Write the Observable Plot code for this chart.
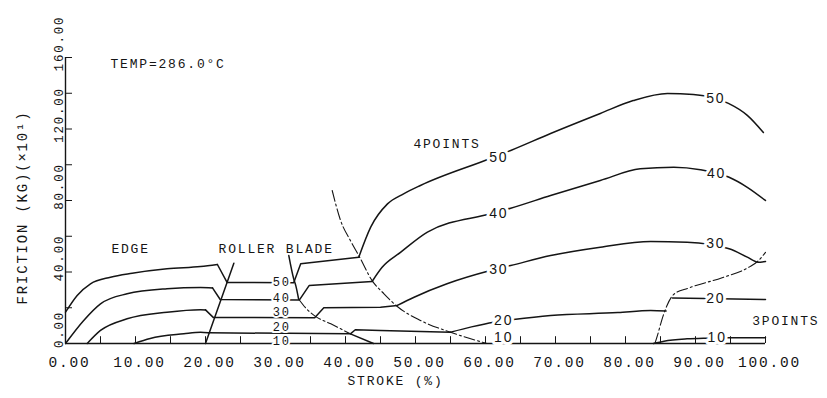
<!DOCTYPE html>
<html><head><meta charset="utf-8">
<script src="https://cdn.jsdelivr.net/npm/d3@7"></script>
<script src="https://cdn.jsdelivr.net/npm/@observablehq/plot@0.6"></script>
<style>
html,body{margin:0;padding:0;background:#fff;}
svg text{letter-spacing:1.8px;}
g[aria-label="y-tick-labels"] text{letter-spacing:0.3px;}
g[aria-label="curve-labels"] text{letter-spacing:0;}
g[aria-label="roller-labels"] text{letter-spacing:0.5px;}
</style></head><body><div id="chart"></div>
<script>
// ---- axes ----
const xTicks = [0,5,10,15,20,25,30,35,40,45,50,55,60,65,70,75,80,85,90,95,100];
const xTickLabels = [0,10,20,30,40,50,60,70,80,90,100];
const yTicks = [0,20,40,60,80,100,120,140,160];
const yTickLabels = [0,40,80,120,160];

// ---- curves (stroke %, friction) : smooth pieces ----
const edge50 = [[0,17.5],[1.67,26.9],[3.57,33.4],[6.43,37.1],[9.52,39.3],[14.5,41.8],[19.3,43.1],[21.7,44.2]];
const four50 = [[41.9,48.3],[43.6,65.1],[46,78.1],[48.3,83.7],[50.7,88.4],[60.7,103.5],[63.6,108],[69.3,117.5],[76.4,128.7],[81.1,135.9],[86,139.9],[89.7,139.3],[92.9,137.1],[94.7,134.3],[97.4,127.6],[99.7,118]];
const edge40 = [[0,0],[2.6,12.9],[5,22.2],[8.8,27.8],[14.5,30.6],[19.3,31.3],[21,31.1]];
const four40 = [[43.8,34.7],[45.2,42.5],[47.9,51.1],[51.7,62.3],[60.7,72.6],[63.6,75.7],[69.3,82.8],[76.4,91.2],[82.1,97.7],[86.9,98.6],[90.7,97.2],[94.8,93],[97.4,87.4],[100,80]];
const edge30 = [[3.1,0],[5,7.3],[8.8,13.8],[14.5,17.5],[19.3,18.9],[20,18.8]];
const four30 = [[47.4,21.3],[49.8,25.9],[54.5,33.4],[60.7,40.8],[63.6,43.6],[69.3,49.2],[76.4,53.9],[83.6,57.1],[88.8,56.7],[94.8,53],[97.4,48.3],[98.9,45.5],[100,45.9]];
const edge20 = [[9.8,0],[12.1,2.8],[16.9,5.4],[19.3,6.3],[20.4,6.0]];
const four20 = [[55,6.3],[58,9.3],[61.2,11.9],[64,13.4],[69.3,15.7],[78.9,17.3],[83.6,18.5],[85.8,18.2]];
const three10 = [[84,0],[85.5,1.3],[88.8,2.6],[91.7,3],[94.5,3.2],[100,3.2]];

// ---- curves : straight pieces ----
const mid50 = [[21.7,44.2],[23.1,34.1],[32.6,34.0],[33.6,44.6],[41.9,48.3]];
const mid40 = [[21,31.1],[22.1,24.6],[33.4,24.3],[34.8,32.4],[43.8,34.7]];
const mid30 = [[20,18.8],[21.1,14.6],[35.6,14.4],[36.9,20],[45,20.3],[47.4,21.3]];
const mid20 = [[20.4,6.0],[40.7,5.4],[41.4,7.7],[45,7.3],[55,6.3]];
const three20 = [[86.7,25.4],[91.4,25.2],[100,24.6]];
const blade10 = [[40.7,5.4],[44,0]];

// ---- region boundaries ----
const rollerBoundary = [[20,0],[24.05,44.9]];
const bladeBoundarySolid = [[31.9,49.2],[32.6,36.2],[32.9,32.4],[33.3,24.9]];
const bladeBoundaryDash = [[33.3,24.9],[34.4,19.5],[35.7,15.2],[37.9,11],[40.7,5.4]];
const fourBoundary = [[38.1,85.6],[39.3,68.8],[40.7,57.6],[41.9,49.2],[43.8,35.2],[45.5,27.8],[47.4,20.7],[50.7,12.9],[55,6.3],[60.2,0]];
const threeBoundary = [[84.2,0],[84.6,5],[85.1,12],[85.9,21],[86.9,27.5],[89,31],[93.8,36.8],[97.6,42.6],[98.9,46],[100,51]];

// ---- curve labels ----
const rollerLabels = [["50",30.9,34.3],["40",30.9,25.6],["30",30.9,17.6],["20",30.9,9.2],["10",30.9,1.4]];
const fourLabels = [["50",61.9,104],["40",61.9,72.7],["30",61.9,41.4],["20",62.6,12.8],["10",62.6,3.2]];
const rightLabels = [["50",92.9,137.1],["40",93,95.1],["30",92.9,55.9],["20",92.9,25.2],["10",93.1,3.4]];

// ---- region annotations ----
const notes = [["TEMP=286.0°C",6.43,156.6,"start"],["EDGE",9.3,53.1,"middle"],["ROLLER BLADE",30.1,53.1,"middle"],["4POINTS",54.5,111.9,"middle"],["3POINTS",102.9,12.9,"middle"]];

const toRows = (pieces) => pieces.flatMap(([id, arr]) => arr.map(([x, y]) => ({id, x, y})));
const smooth = toRows([["e50",edge50],["f50",four50],["e40",edge40],["f40",four40],["e30",edge30],["f30",four30],["e20",edge20],["f20",four20],["t10",three10],["bs",bladeBoundarySolid]]);
const straight = toRows([["m50",mid50],["m40",mid40],["m30",mid30],["m20",mid20],["t20",three20],["b10",blade10],["rb",rollerBoundary]]);
const dashed = toRows([["bd",bladeBoundaryDash],["fb",fourBoundary],["tb",threeBoundary]]);
const toLabels = (arr) => arr.map(([t,x,y]) => ({t,x,y}));

const ink = "#151515";
const mono = "Liberation Mono";

const chart = Plot.plot({
  width: 827, height: 398,
  marginLeft: 65, marginRight: 62, marginTop: 57, marginBottom: 55,
  x: {domain: [0, 100], axis: null},
  y: {domain: [0, 160], axis: null},
  style: {background: "#fff", color: ink},
  marks: [
    Plot.ruleY([0], {x1: 0, x2: 100, stroke: ink, strokeWidth: 1.4}),
    Plot.ruleX([0], {y1: 0, y2: 160, stroke: ink, strokeWidth: 1.4}),
    Plot.ruleX(xTicks, {x: d => d, y1: 0, y2: 3.8, stroke: ink, strokeWidth: 1}),
    Plot.ruleY(yTicks, {y: d => d, x1: 0, x2: 1, stroke: ink, strokeWidth: 1}),
    Plot.text(xTickLabels, {x: d => d, y: 0, dy: 19, dx: 4, text: d => d.toFixed(2), fontFamily: mono, fontSize: 14.5, fill: ink, ariaLabel: "x-tick-labels"}),
    Plot.text(yTickLabels, {x: 0, y: d => d, dx: -7, dy: -14, rotate: -90, text: d => d.toFixed(2), fontFamily: mono, fontSize: 12.5, fill: ink, ariaLabel: "y-tick-labels"}),
    Plot.text(["STROKE (%)"], {frameAnchor: "bottom", textAnchor: "middle", dx: -20, dy: 41, fontFamily: mono, fontSize: 13, fill: ink}),
    Plot.text(["FRICTION (KG)(×10¹)"], {frameAnchor: "left", textAnchor: "middle", rotate: -90, dx: -43, dy: 7, fontFamily: mono, fontSize: 14, fill: ink}),
    Plot.line(smooth, {x: "x", y: "y", z: "id", curve: "monotone-x", stroke: ink, strokeWidth: 1.5}),
    Plot.line(straight, {x: "x", y: "y", z: "id", curve: "linear", stroke: ink, strokeWidth: 1.5}),
    Plot.line(dashed, {x: "x", y: "y", z: "id", curve: "monotone-x", stroke: ink, strokeWidth: 1.1, strokeDasharray: "11,3,2,3"}),
    Plot.text(toLabels(rollerLabels), {x: "x", y: "y", text: "t", fontFamily: mono, fontSize: 12, fill: ink, stroke: "white", strokeWidth: 4, paintOrder: "stroke", ariaLabel: "roller-labels"}),
    Plot.text(toLabels(fourLabels).concat(toLabels(rightLabels)), {x: "x", y: "y", text: "t", fontFamily: "Liberation Sans", fontSize: 14, fill: ink, stroke: "white", strokeWidth: 6, paintOrder: "stroke", ariaLabel: "curve-labels"}),
    Plot.text(notes.map(([t,x,y,a]) => ({t,x,y,a})).filter(d => d.a === "start"), {x: "x", y: "y", text: "t", textAnchor: "start", fontFamily: mono, fontSize: 13, fill: ink}),
    Plot.text(notes.map(([t,x,y,a]) => ({t,x,y,a})).filter(d => d.a === "middle"), {x: "x", y: "y", text: "t", textAnchor: "middle", fontFamily: mono, fontSize: 13, fill: ink})
  ]
});
document.getElementById("chart").appendChild(chart);
</script></body></html>
